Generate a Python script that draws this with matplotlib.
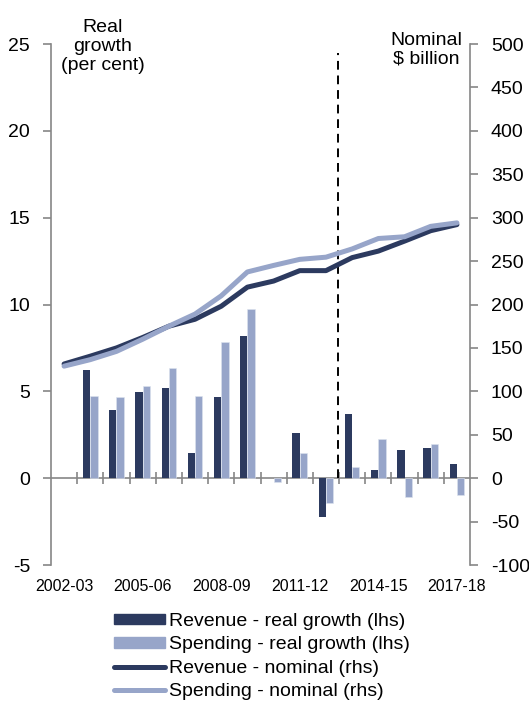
import matplotlib
matplotlib.use('Agg')
import matplotlib.pyplot as plt
import numpy as np
from matplotlib.patches import Patch
from matplotlib.lines import Line2D

plt.rcParams['font.family'] = ['Liberation Sans', 'DejaVu Sans']
plt.rcParams['axes.unicode_minus'] = False

# financial years on the x axis
years = ['2002-03', '2003-04', '2004-05', '2005-06', '2006-07', '2007-08',
         '2008-09', '2009-10', '2010-11', '2011-12', '2012-13', '2013-14',
         '2014-15', '2015-16', '2016-17', '2017-18']
year_labels = ['2002-03', '2005-06', '2008-09', '2011-12', '2014-15', '2017-18']

# real growth, per cent (lhs)
rev_growth = [np.nan, 6.25, 3.9, 4.98, 5.17, 1.45, 4.66, 8.16, 0.03,
              2.59, -2.26, 3.68, 0.48, 1.63, 1.76, 0.79]
spend_growth = [np.nan, 4.75, 4.66, 5.29, 6.34, 4.75, 7.82, 9.73, -0.2,
                1.44, -1.44, 0.67, 2.26, -1.09, 1.95, -0.99]

# nominal $ billion (rhs)
rev_nominal = [131.5, 140.5, 150, 162, 175, 183, 198, 220, 227, 239, 239,
               254, 261.5, 273, 285, 292]
spend_nominal = [129, 136.5, 146, 160, 175, 189, 210, 237.5, 245, 252, 254.5,
                 264, 276, 278, 290, 294]

dark = '#2C3A5F'
light = '#97A5C9'
grey = '#868686'

fig = plt.figure(figsize=(5.29, 7.05), dpi=100)
ax = fig.add_axes([51/529, 1-565/705, 419/529, 521/705])
ax2 = ax.twinx()

x = np.arange(len(years))
w = 0.28
ax.bar(x - w/2, rev_growth, w, color=dark, zorder=3)
ax.bar(x + w/2, spend_growth, w, color=light, edgecolor='#dde3ef', linewidth=0.4, zorder=3)

ax2.plot(x, rev_nominal, color=dark, lw=3.6, solid_capstyle='round', solid_joinstyle='round', zorder=4)
ax2.plot(x, spend_nominal, color=light, lw=3.6, solid_capstyle='round', solid_joinstyle='round', zorder=5)

# dashed divider between actuals and estimates
ax.plot([10.45, 10.45], [0, 24.5], color='black', lw=1.4, dashes=(4.5, 3), zorder=6)

# zero line with category ticks
ax.axhline(0, color=grey, lw=1.2, zorder=2)
ax.plot(np.arange(0.5, 15.5), np.zeros(15), ls='none', marker='|', ms=9,
        mew=1.2, color=grey, zorder=2)

ax.set_xlim(-0.5, 15.5)
ax.set_ylim(-5, 25)
ax2.set_ylim(-100, 500)
ax.set_yticks(range(-5, 26, 5))
ax2.set_yticks(range(-100, 501, 50))

ax.set_xticks([0, 3, 6, 9, 12, 15])
ax.set_xticklabels(year_labels, fontsize=11.5)
ax.tick_params(axis='x', length=0, pad=10)

for a in (ax, ax2):
    a.patch.set_visible(False)
    for s in ('top', 'bottom'):
        a.spines[s].set_visible(False)
    a.tick_params(axis='y', colors=grey, labelcolor='black', length=6,
                  width=1.2, labelsize=14, pad=9)
ax.spines['left'].set_color(grey)
ax.spines['left'].set_linewidth(1.2)
ax.spines['right'].set_visible(False)
ax2.spines['left'].set_visible(False)
ax2.spines['right'].set_color(grey)
ax2.spines['right'].set_linewidth(1.2)
ax2.tick_params(axis='y', pad=9)

fig.text(103/529, 1-19/705, 'Real\ngrowth\n(per cent)', ha='center', va='top',
         fontsize=14, linespacing=1.15)
fig.text(426/529, 1-32/705, 'Nominal\n$ billion', ha='center', va='top',
         fontsize=14, linespacing=1.1)

handles = [Patch(color=dark), Patch(color=light),
           Line2D([], [], color=dark, lw=3.6, solid_capstyle='round'),
           Line2D([], [], color=light, lw=3.6, solid_capstyle='round')]
labels = ['Revenue - real growth (lhs)', 'Spending - real growth (lhs)',
          'Revenue - nominal (rhs)', 'Spending - nominal (rhs)']
fig.legend(handles, labels, loc='upper left', bbox_to_anchor=(114/529, 1-613/705),
           frameon=False, fontsize=14, handlelength=2.6, handleheight=0.45,
           handletextpad=0.25, labelspacing=0.33, borderpad=0, borderaxespad=0)

fig.savefig('out.png', dpi=100)
